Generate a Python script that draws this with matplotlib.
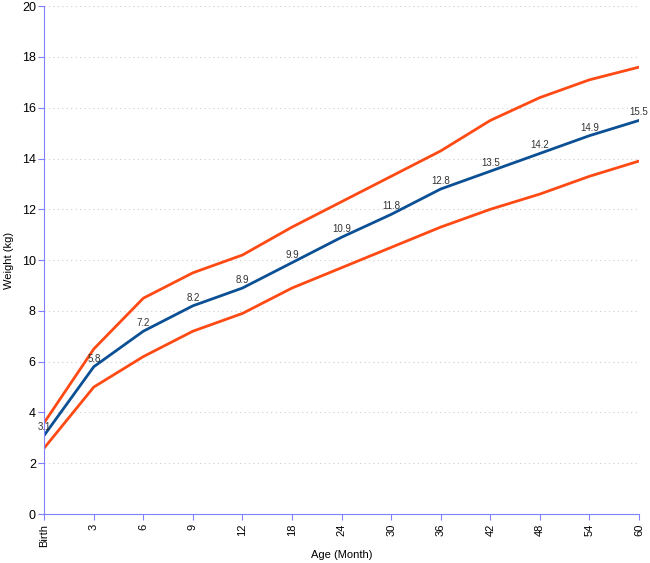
import matplotlib.pyplot as plt

plt.rcParams['font.family'] = ['Liberation Sans', 'DejaVu Sans']

ages = ['Birth', '3', '6', '9', '12', '18', '24', '30', '36', '42', '48', '54', '60']
median = [3.1, 5.8, 7.2, 8.2, 8.9, 9.9, 10.9, 11.8, 12.8, 13.5, 14.2, 14.9, 15.5]
upper = [3.6, 6.5, 8.5, 9.5, 10.2, 11.3, 12.3, 13.3, 14.3, 15.5, 16.4, 17.1, 17.6]
lower = [2.6, 5.0, 6.2, 7.2, 7.9, 8.9, 9.7, 10.5, 11.3, 12.0, 12.6, 13.3, 13.9]

x = list(range(len(ages)))
axis_col = '#8080ff'

fig = plt.figure(figsize=(6.5, 5.63), dpi=100)
ax = fig.add_axes([0.068, 0.087, 0.915, 0.902])

ax.plot(x, upper, color='#ff4a14', lw=2)
ax.plot(x, lower, color='#ff4a14', lw=2)
ax.plot(x, median, color='#0b4f94', lw=2)

for i, v in enumerate(median):
    ax.text(i, v + 0.12, str(v), ha='center', va='bottom', fontsize=7, color='#333333')

ax.set_xlim(0, len(ages) - 1)
ax.set_ylim(0, 20)
ax.set_xticks(x)
ax.set_xticklabels(ages, rotation=90, fontsize=8)
ax.set_yticks(range(0, 21, 2))
ax.tick_params(axis='y', labelsize=9, color=axis_col, length=4, pad=2)
ax.tick_params(axis='x', color=axis_col, length=4, pad=3)
ax.grid(axis='y', linestyle=(0, (1, 3)), color='#cccccc', lw=0.8)

for s in ['top', 'right']:
    ax.spines[s].set_visible(False)
ax.spines['left'].set_color(axis_col)
ax.spines['bottom'].set_color(axis_col)

ax.set_xlabel('Age (Month)', fontsize=8, labelpad=2)
ax.set_ylabel('Weight (kg)', fontsize=8, labelpad=6)

fig.savefig('out.png')
